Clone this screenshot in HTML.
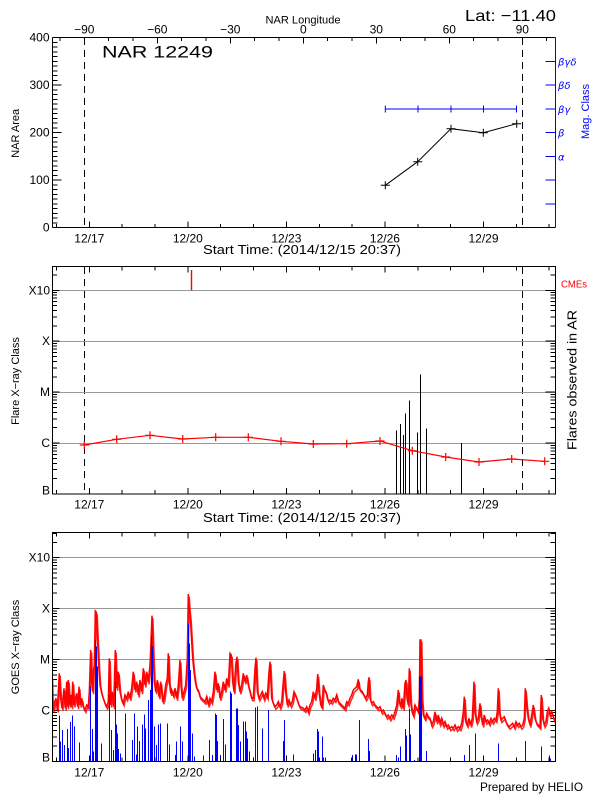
<!DOCTYPE html>
<html><head><meta charset="utf-8"><style>
html,body{margin:0;padding:0;background:#fff;}
svg{display:block;}
text{font-family:"Liberation Sans","DejaVu Sans",sans-serif;fill:#000;}
</style></head><body>
<svg width="600" height="800" viewBox="0 0 600 800" xmlns="http://www.w3.org/2000/svg">
<defs>
<clipPath id="cb"><rect x="52.5" y="532.5" width="503" height="229"/></clipPath>
<clipPath id="cm"><rect x="52.5" y="266.5" width="503" height="227.5"/></clipPath>
</defs>
<rect width="600" height="800" fill="#fff"/>

<!-- ============ TOP PANEL ============ -->
<text x="303" y="23.5" font-size="11" text-anchor="middle" textLength="75" lengthAdjust="spacingAndGlyphs">NAR Longitude</text>
<text x="465" y="21" font-size="16" textLength="91" lengthAdjust="spacingAndGlyphs">Lat: −11.40</text>
<g font-size="12" text-anchor="middle">
<text x="84.3" y="33.5">−90</text><text x="157.3" y="33.5">−60</text><text x="230.3" y="33.5">−30</text><text x="303.3" y="33.5">0</text><text x="376.3" y="33.5">30</text><text x="449.3" y="33.5">60</text><text x="522.3" y="33.5">90</text>
</g>
<text x="102" y="57.5" font-size="17" textLength="111" lengthAdjust="spacingAndGlyphs">NAR 12249</text>
<g font-size="12" text-anchor="end">
<text x="49.5" y="41.5">400</text><text x="49.5" y="89">300</text><text x="49.5" y="136.5">200</text><text x="49.5" y="184">100</text><text x="49.5" y="231.5">0</text>
</g>
<text transform="translate(19,133.3) rotate(-90)" font-size="11" text-anchor="middle">NAR Area</text>
<g font-size="12" text-anchor="middle">
<text x="89.3" y="242.5">12/17</text><text x="187.85" y="242.5">12/20</text><text x="286.4" y="242.5">12/23</text><text x="384.95" y="242.5">12/26</text><text x="483.5" y="242.5">12/29</text>
</g>
<text x="302" y="254" font-size="13" text-anchor="middle" textLength="198" lengthAdjust="spacingAndGlyphs">Start Time: (2014/12/15 20:37)</text>

<g stroke="#000" stroke-width="1" fill="none" shape-rendering="crispEdges">
<path d="M52.5,37.5H555.5M52.5,37.5V227.5M52.5,227.5H555.5"/>
<path d="M52.5,222.75h5M52.5,218h5M52.5,213.25h5M52.5,208.5h5M52.5,203.75h5M52.5,199h5M52.5,194.25h5M52.5,189.5h5M52.5,184.75h5M52.5,180h9M52.5,175.25h5M52.5,170.5h5M52.5,165.75h5M52.5,161h5M52.5,156.25h5M52.5,151.5h5M52.5,146.75h5M52.5,142h5M52.5,137.25h5M52.5,132.5h9M52.5,127.75h5M52.5,123h5M52.5,118.25h5M52.5,113.5h5M52.5,108.75h5M52.5,104h5M52.5,99.25h5M52.5,94.5h5M52.5,89.75h5M52.5,85h9M52.5,80.25h5M52.5,75.5h5M52.5,70.75h5M52.5,66h5M52.5,61.25h5M52.5,56.5h5M52.5,51.75h5M52.5,47h5M52.5,42.25h5"/>
<path d="M56.45,227.5v-3.5M89.3,227.5v-6M122.15,227.5v-3.5M155,227.5v-3.5M187.85,227.5v-6M220.7,227.5v-3.5M253.55,227.5v-3.5M286.4,227.5v-6M319.25,227.5v-3.5M352.1,227.5v-3.5M384.95,227.5v-6M417.8,227.5v-3.5M450.65,227.5v-3.5M483.5,227.5v-6M516.35,227.5v-3.5M549.2,227.5v-3.5"/>
<path d="M60,37.5v3.5M84.3,37.5v6M108.7,37.5v3.5M133,37.5v3.5M157.3,37.5v6M181.7,37.5v3.5M206,37.5v3.5M230.3,37.5v6M254.6,37.5v3.5M279,37.5v3.5M303.3,37.5v6M327.6,37.5v3.5M352,37.5v3.5M376.3,37.5v6M400.6,37.5v3.5M425,37.5v3.5M449.3,37.5v6M473.6,37.5v3.5M497.9,37.5v3.5M522.3,37.5v6M546.6,37.5v3.5"/>
</g>
<g stroke="#00f" stroke-width="1" fill="none" shape-rendering="crispEdges">
<path d="M555.5,37.5V227.5"/>
<path d="M545.5,203.75h10M545.5,180h10M545.5,156.25h10M545.5,132.5h10M545.5,108.75h10M545.5,85h10M545.5,61.25h10"/>
</g>
<g font-size="10" font-style="italic">
<text x="558" y="65.5" style="fill:#00f;font-family:'DejaVu Sans',sans-serif" textLength="18.5" lengthAdjust="spacingAndGlyphs">βγδ</text>
<text x="558" y="89" style="fill:#00f;font-family:'DejaVu Sans',sans-serif">βδ</text>
<text x="558" y="113" style="fill:#00f;font-family:'DejaVu Sans',sans-serif">βγ</text>
<text x="558" y="136.5" style="fill:#00f;font-family:'DejaVu Sans',sans-serif">β</text>
<text x="558" y="160.3" style="fill:#00f;font-family:'DejaVu Sans',sans-serif">α</text>
</g>
<text transform="translate(589,111.5) rotate(-90)" font-size="11" text-anchor="middle" style="fill:#00f">Mag. Class</text>
<g stroke="#000" stroke-width="1" stroke-dasharray="7,5" shape-rendering="crispEdges">
<path d="M84.5,38V227M522.5,38V227"/>
<path d="M84.5,267V494M522.5,267V494"/>
</g>
<path d="M385.3,109H516.5" stroke="#00f" stroke-width="1" fill="none"/>
<path d="M385.3,105.5v7M418,105.5v7M451,105.5v7M483.5,105.5v7M516.5,105.5v7" stroke="#00f" stroke-width="1" fill="none"/>
<polyline points="385.3,185.3 417.7,161.7 451,128.7 483.3,132.7 516.7,123.7" stroke="#000" stroke-width="1" fill="none"/>
<path d="M380.8,185.3h9M385.3,181.3v8M413.2,161.7h9M417.7,157.7v8M446.5,128.7h9M451,124.7v8M478.8,132.7h9M483.3,128.7v8M512.2,123.7h9M516.7,119.7v8" stroke="#000" stroke-width="1" fill="none"/>

<!-- ============ MIDDLE PANEL ============ -->
<g stroke="#999" stroke-width="1" shape-rendering="crispEdges">
<path d="M52.5,290.5H555.5M52.5,341.5H555.5M52.5,392.5H555.5M52.5,443.5H555.5"/>
</g>
<g stroke="#000" stroke-width="1" fill="none" shape-rendering="crispEdges">
<path d="M52.5,478.67h4.5M52.5,469.7h4.5M52.5,463.34h4.5M52.5,458.4h4.5M52.5,454.37h4.5M52.5,450.96h4.5M52.5,448.01h4.5M52.5,445.4h4.5M52.5,443.07h7M52.5,427.74h4.5M52.5,418.77h4.5M52.5,412.41h4.5M52.5,407.47h4.5M52.5,403.44h4.5M52.5,400.03h4.5M52.5,397.08h4.5M52.5,394.47h4.5M52.5,392.14h7M52.5,376.81h4.5M52.5,367.84h4.5M52.5,361.48h4.5M52.5,356.54h4.5M52.5,352.51h4.5M52.5,349.1h4.5M52.5,346.15h4.5M52.5,343.54h4.5M52.5,341.21h7M52.5,325.88h4.5M52.5,316.91h4.5M52.5,310.55h4.5M52.5,305.61h4.5M52.5,301.58h4.5M52.5,298.17h4.5M52.5,295.22h4.5M52.5,292.61h4.5M52.5,290.28h7M52.5,274.95h4.5"/>
<path d="M555.5,478.67h-5M555.5,469.7h-5M555.5,463.34h-5M555.5,458.4h-5M555.5,454.37h-5M555.5,450.96h-5M555.5,448.01h-5M555.5,445.4h-5M555.5,443.07h-10M555.5,427.74h-5M555.5,418.77h-5M555.5,412.41h-5M555.5,407.47h-5M555.5,403.44h-5M555.5,400.03h-5M555.5,397.08h-5M555.5,394.47h-5M555.5,392.14h-10M555.5,376.81h-5M555.5,367.84h-5M555.5,361.48h-5M555.5,356.54h-5M555.5,352.51h-5M555.5,349.1h-5M555.5,346.15h-5M555.5,343.54h-5M555.5,341.21h-10M555.5,325.88h-5M555.5,316.91h-5M555.5,310.55h-5M555.5,305.61h-5M555.5,301.58h-5M555.5,298.17h-5M555.5,295.22h-5M555.5,292.61h-5M555.5,290.28h-10M555.5,274.95h-5"/>
</g>
<g stroke="#000" stroke-width="1" fill="none" shape-rendering="crispEdges">
<rect x="52.5" y="266.5" width="503" height="227.5"/>
<path d="M56.45,494v-4M89.3,494v-6M122.15,494v-4M155,494v-4M187.85,494v-6M220.7,494v-4M253.55,494v-4M286.4,494v-6M319.25,494v-4M352.1,494v-4M384.95,494v-6M417.8,494v-4M450.65,494v-4M483.5,494v-6M516.35,494v-4M549.2,494v-4"/>
<path d="M56.45,266.5v4M89.3,266.5v6M122.15,266.5v4M155,266.5v4M187.85,266.5v6M220.7,266.5v4M253.55,266.5v4M286.4,266.5v6M319.25,266.5v4M352.1,266.5v4M384.95,266.5v6M417.8,266.5v4M450.65,266.5v4M483.5,266.5v6M516.35,266.5v4M549.2,266.5v4"/>
</g>
<g font-size="12" text-anchor="end">
<text x="50" y="294.3">X10</text><text x="50" y="345.2">X</text><text x="50" y="396.1">M</text><text x="50" y="447.1">C</text><text x="50" y="494.5">B</text>
</g>
<text transform="translate(19,381) rotate(-90)" font-size="11" text-anchor="middle">Flare X−ray Class</text>
<text transform="translate(576.5,380) rotate(-90)" font-size="13" text-anchor="middle" textLength="140" lengthAdjust="spacingAndGlyphs">Flares observed in AR</text>
<text x="561" y="287.5" font-size="10" textLength="26" lengthAdjust="spacingAndGlyphs" style="fill:#f00">CMEs</text>
<g font-size="12" text-anchor="middle">
<text x="89.3" y="508.5">12/17</text><text x="187.85" y="508.5">12/20</text><text x="286.4" y="508.5">12/23</text><text x="384.95" y="508.5">12/26</text><text x="483.5" y="508.5">12/29</text>
</g>
<text x="302" y="522" font-size="13" text-anchor="middle" textLength="198" lengthAdjust="spacingAndGlyphs">Start Time: (2014/12/15 20:37)</text>
<path d="M191.5,270V290.3" style="stroke:#f00" stroke-width="1.4"/>
<path d="M396.5,494V430.7M400.5,494V424M403.5,494V435M405.5,494V413.7M409.5,494V400.7M417.5,494V432.7M420.5,494V374.7M426.5,494V428.7M461.5,494V443" stroke="#000" stroke-width="1" shape-rendering="crispEdges"/>
<g clip-path="url(#cm)">
<polyline points="84.3,445 116.7,439.3 150,435.3 182.7,439 215.7,437.3 248.3,437.3 281,441.3 313.3,444 346.7,443.7 380,441 412.3,450.7 445.7,457 479,462 511.7,459 544.7,461.3" style="stroke:#f00" stroke-width="1.2" fill="none"/>
<path d="M79.8,445h9M84.3,441v8M112.2,439.3h9M116.7,435.3v8M145.5,435.3h9M150,431.3v8M178.2,439h9M182.7,435v8M211.2,437.3h9M215.7,433.3v8M243.8,437.3h9M248.3,433.3v8M276.5,441.3h9M281,437.3v8M308.8,444h9M313.3,440v8M342.2,443.7h9M346.7,439.7v8M375.5,441h9M380,437v8M407.8,450.7h9M412.3,446.7v8M441.2,457h9M445.7,453v8M474.5,462h9M479,458v8M507.2,459h9M511.7,455v8M540.2,461.3h9M544.7,457.3v8" style="stroke:#f00" stroke-width="1.2" fill="none"/>
</g>

<!-- ============ BOTTOM PANEL ============ -->
<g stroke="#999" stroke-width="1" shape-rendering="crispEdges">
<path d="M52.5,557.5H555.5M52.5,608.5H555.5M52.5,659.5H555.5M52.5,710.5H555.5"/>
</g>
<g transform="translate(0,267.3)" stroke="#000" stroke-width="1" fill="none" shape-rendering="crispEdges">
<path d="M52.5,478.67h4.5M52.5,469.7h4.5M52.5,463.34h4.5M52.5,458.4h4.5M52.5,454.37h4.5M52.5,450.96h4.5M52.5,448.01h4.5M52.5,445.4h4.5M52.5,443.07h7M52.5,427.74h4.5M52.5,418.77h4.5M52.5,412.41h4.5M52.5,407.47h4.5M52.5,403.44h4.5M52.5,400.03h4.5M52.5,397.08h4.5M52.5,394.47h4.5M52.5,392.14h7M52.5,376.81h4.5M52.5,367.84h4.5M52.5,361.48h4.5M52.5,356.54h4.5M52.5,352.51h4.5M52.5,349.1h4.5M52.5,346.15h4.5M52.5,343.54h4.5M52.5,341.21h7M52.5,325.88h4.5M52.5,316.91h4.5M52.5,310.55h4.5M52.5,305.61h4.5M52.5,301.58h4.5M52.5,298.17h4.5M52.5,295.22h4.5M52.5,292.61h4.5M52.5,290.28h7M52.5,274.95h4.5M52.5,266.3h4.5"/>
<path d="M555.5,478.67h-5M555.5,469.7h-5M555.5,463.34h-5M555.5,458.4h-5M555.5,454.37h-5M555.5,450.96h-5M555.5,448.01h-5M555.5,445.4h-5M555.5,443.07h-10M555.5,427.74h-5M555.5,418.77h-5M555.5,412.41h-5M555.5,407.47h-5M555.5,403.44h-5M555.5,400.03h-5M555.5,397.08h-5M555.5,394.47h-5M555.5,392.14h-10M555.5,376.81h-5M555.5,367.84h-5M555.5,361.48h-5M555.5,356.54h-5M555.5,352.51h-5M555.5,349.1h-5M555.5,346.15h-5M555.5,343.54h-5M555.5,341.21h-10M555.5,325.88h-5M555.5,316.91h-5M555.5,310.55h-5M555.5,305.61h-5M555.5,301.58h-5M555.5,298.17h-5M555.5,295.22h-5M555.5,292.61h-5M555.5,290.28h-10M555.5,274.95h-5M555.5,266.3h-5"/>
</g>
<g font-size="12" text-anchor="end">
<text x="50" y="561.6">X10</text><text x="50" y="612.5">X</text><text x="50" y="663.4">M</text><text x="50" y="714.4">C</text><text x="50" y="761.5">B</text>
</g>
<text transform="translate(19,647) rotate(-90)" font-size="11" text-anchor="middle">GOES X−ray Class</text>
<g font-size="12" text-anchor="middle">
<text x="89.3" y="776.5">12/17</text><text x="187.85" y="776.5">12/20</text><text x="286.4" y="776.5">12/23</text><text x="384.95" y="776.5">12/26</text><text x="483.5" y="776.5">12/29</text>
</g>
<text x="480" y="791" font-size="12" textLength="103" lengthAdjust="spacingAndGlyphs">Prepared by HELIO</text>

<g clip-path="url(#cb)">
<polyline id="goesred" style="stroke:#f00" stroke-width="1.5" fill="none" points="51.7,676.7 52.3,698.3 53.3,710 54.7,701.7 56,698.3 57.3,710 59.3,673.3 60.7,698.3 62,708.3 64,688.3 65.3,708.3 66.7,681.7 67.7,706.7 68.3,680 69.7,705 70.7,695 71.7,706.7 72.7,681.7 74,705 75,700 76.7,693.3 77.7,706.7 79,686.7 80.3,705 81.7,698.3 83.3,706.7 85,710 86.7,705 88.3,706.7 89.3,691.7 90.7,650 91.7,681.7 92.7,691.7 93.3,671.7 94.3,665 95.3,611 96.3,612.3 97.3,635 98.7,665 100,685 101.7,693.3 103.3,698.3 105,703.3 106.7,706.7 108.3,701.7 109.3,658.3 110.7,705 112.3,691.7 113.7,706.7 115.3,650 116.7,688.3 118.3,671.7 120,691.7 121.7,700 123.3,703.3 125,695 126.7,698.3 128.3,691.7 130,698.3 131.7,688.3 133.3,671.7 135,690 136.7,681.7 138.3,695 140,680 141.7,691.7 143.3,668.3 145,685 146.7,671.7 148.3,681.7 150,665 151,641 152,615.7 153.3,656.7 154.3,681.7 155.7,691.7 157.3,680 159,696.7 160.7,681.7 162.7,701.7 164,698.3 165.7,685 167.3,678.3 168.3,653.3 169.3,681.7 170.7,693.3 171.7,690 173.3,695 175,688.3 176.7,698.3 178.3,685 180,660 181,685 182.3,698.3 184,691.7 185.7,685 187.3,658.3 188.3,594 189.3,608.3 190.3,618.3 191.3,635 192.7,658.3 194,671.7 195.3,681.7 196.7,688.3 198.3,690 200,696.7 201.7,698.3 203.3,700 205,701.7 206.7,696.7 208.3,705 210,698.3 211.7,701.7 213.3,691.7 215,671.7 216.7,690 218.3,683.3 220,698.3 221.7,691.7 223.3,681.7 225,690 226.7,678.3 228.3,685 230,653.3 231.3,655 232.7,681.7 234,691.7 235.7,665 237,656.7 238.3,681.7 240,691.7 241.7,685 243.3,673.3 245,681.7 246.7,675 248.3,685 250,691.7 251.7,698.3 253.3,698.3 255,668.3 256,657.7 257.3,691.7 259,698.3 260.7,695 262.3,691.7 264,698.3 265.7,693.3 267.3,696.7 269,671.7 270,661.7 271.7,698.3 273.3,703.3 275,706.7 276.7,705 278.3,701.7 280,706.7 281.7,701.7 283.3,681.7 284.3,671 285.7,691.7 287.3,705 289,700 290.7,705 292.3,701.7 294,691.7 295.7,695 297.3,700 299,705 300,706.7 303.3,708.3 305,710 306.7,706.7 308.3,711.7 310,705 311.7,701.7 313.3,691.7 315,698.3 316.7,688.3 317.7,674 319,691.7 320.7,705 322,706.7 323.3,685 324.7,690 326,691.7 327.3,698.3 328.7,701.7 330,700 331.7,701.7 333.3,698.3 335,700 336.7,695 338.3,701.7 340,703.3 341.7,705 343.3,706.7 345,708.3 346.7,701.7 348.3,703.3 350,698.3 351.7,695 353.3,690 355,688.3 356.7,686.7 358.3,679.3 359.3,688.3 360.7,690 362.3,691.7 364,695 365.7,698.3 367.3,695 368.3,681.7 369,677.3 370,698.3 371.7,703.3 373.3,701.7 375,705 376.7,706.7 378.3,708.3 380,706.7 381.7,711.7 383.3,710 385,713.3 386.7,716.7 388.3,715 390,718.3 391.7,715 393.3,716.7 395,711.7 396.7,705 398.3,690 399.3,701.7 400.7,706.7 402,698.3 403.3,708.3 405,683.3 406,680 407,698.3 408.3,705 409.3,668.3 410.7,701.7 412,711.7 413.3,715 415,705 416.7,708.3 418.3,711.7 419.3,698.3 420,640 421,640 422,698.3 423.3,715 425,718.3 426.7,713.3 428.3,716.7 430,718.3 431.7,725 433.3,721.7 435,711.7 436.7,721.7 438.3,715 440,723.3 441.7,718.3 443.3,725 445,721.7 446.7,726.7 448.3,725 450,728.3 451.7,726.7 453.3,728.3 455,725 456.7,729 458.3,726.7 460,728.3 461.7,723.3 463.3,711.7 464.3,696.7 465.7,721.7 467.3,725 469,718.3 470.7,725 472.3,718.3 474,681.7 475,711.7 476.7,721.7 478.3,718.3 480,703.3 481,715 482.7,725 484.3,715 486,721.7 487.7,720 489.3,723.3 491,718.3 492.7,721.7 494.3,718.3 496,720 497.3,711.7 498.3,688.3 499.3,711.7 501,720 502.7,718.3 504.3,716.7 506,721.7 507.7,725 509.3,726.7 511,725 512.7,723.3 514.3,726.7 516,721.7 517.7,725 519.3,723.3 521,726.7 522.7,725 524.3,718.3 525.3,688.3 526.7,705 528.3,718.3 530,725 531.7,715 533.3,705 535,718.3 536.7,723.3 538.3,725 540,726.7 541.3,695 542.7,718.3 544.3,725 546,721.7 547.3,711.7 548.7,708.3 550,715 551.7,711.7 553.3,716.7 555,721.7"/>
<use href="#goesred" transform="translate(0.9,2.5)" style="stroke-width:1" opacity="0.85"/>
<path style="stroke:#00f" stroke-width="1" fill="none" shape-rendering="crispEdges" d="M52.5,761.5V721.7M59.5,761.5V715.7M60.5,761.5V741.7M62.5,761.5V730M64.5,761.5V745M67.5,761.5V729M68.5,761.5V748M70.5,761.5V722M72.5,761.5V715.7M74.5,761.5V726.7M79.5,761.5V742.3M89.5,761.5V755.7M90.5,761.5V686.7M92.5,761.5V729M93.5,761.5V751.7M95.5,761.5V640M96.5,761.5V646.7M97.5,761.5V666.7M101.5,761.5V743.3M109.5,761.5V695M111.5,761.5V730M113.5,761.5V750M115.5,761.5V681.7M116.5,761.5V724.3M117.5,761.5V733.3M118.5,761.5V749M120.5,761.5V753.3M125.5,761.5V713.3M132.5,761.5V740M134.5,761.5V713.3M136.5,761.5V754.3M137.5,761.5V726.7M139.5,761.5V741M142.5,761.5V724.3M144.5,761.5V714.3M145.5,761.5V728.3M148.5,761.5V700M150.5,761.5V690M151.5,761.5V636.7M152.5,761.5V646.7M154.5,761.5V726.7M156.5,761.5V745M158.5,761.5V724.3M160.5,761.5V723.3M167.5,761.5V723.3M169.5,761.5V744.3M175.5,761.5V755M176.5,761.5V741.7M180.5,761.5V726.7M182.5,761.5V741.7M188.5,761.5V623.3M189.5,761.5V643.3M190.5,761.5V670M192.5,761.5V733.3M194.5,761.5V756.7M203.5,761.5V755.7M209.5,761.5V740M212.5,761.5V755M215.5,761.5V713.3M216.5,761.5V715M217.5,761.5V741M220.5,761.5V755M223.5,761.5V719M225.5,761.5V744.3M230.5,761.5V691.7M231.5,761.5V693.3M236.5,761.5V708.3M237.5,761.5V708.3M238.5,761.5V725M240.5,761.5V741.7M243.5,761.5V721.7M245.5,761.5V721.7M246.5,761.5V731.7M247.5,761.5V738.3M249.5,761.5V751.7M255.5,761.5V707.7M257.5,761.5V706.7M262.5,761.5V728.3M268.5,761.5V710M283.5,761.5V741M284.5,761.5V720M293.5,761.5V754.3M313.5,761.5V753.3M315.5,761.5V750M317.5,761.5V729M318.5,761.5V731.7M319.5,761.5V757.7M322.5,761.5V736.7M323.5,761.5V757.7M325.5,761.5V757.7M351.5,761.5V757.7M352.5,761.5V755M355.5,761.5V754.3M356.5,761.5V754.3M359.5,761.5V720M368.5,761.5V739M369.5,761.5V751M396.5,761.5V755M398.5,761.5V757.7M400.5,761.5V746.7M405.5,761.5V729M406.5,761.5V735.7M409.5,761.5V708.3M410.5,761.5V734.3M414.5,761.5V760M419.5,761.5V676.7M420.5,761.5V676.7M421.5,761.5V676.7M426.5,761.5V751M464.5,761.5V755M469.5,761.5V745M475.5,761.5V733.3M498.5,761.5V743.3M525.5,761.5V741M541.5,761.5V746.7M549.5,761.5V755.7M550.5,761.5V758.3"/>
</g>
<g stroke="#000" stroke-width="1" fill="none" shape-rendering="crispEdges">
<rect x="52.5" y="532.5" width="503" height="229"/>
<path d="M56.45,761.5v-4M89.3,761.5v-6M122.15,761.5v-4M155,761.5v-4M187.85,761.5v-6M220.7,761.5v-4M253.55,761.5v-4M286.4,761.5v-6M319.25,761.5v-4M352.1,761.5v-4M384.95,761.5v-6M417.8,761.5v-4M450.65,761.5v-4M483.5,761.5v-6M516.35,761.5v-4M549.2,761.5v-4"/>
<path d="M56.45,532.5v4M89.3,532.5v6M122.15,532.5v4M155,532.5v4M187.85,532.5v6M220.7,532.5v4M253.55,532.5v4M286.4,532.5v6M319.25,532.5v4M352.1,532.5v4M384.95,532.5v6M417.8,532.5v4M450.65,532.5v4M483.5,532.5v6M516.35,532.5v4M549.2,532.5v4"/>
</g>
</svg>
</body></html>
